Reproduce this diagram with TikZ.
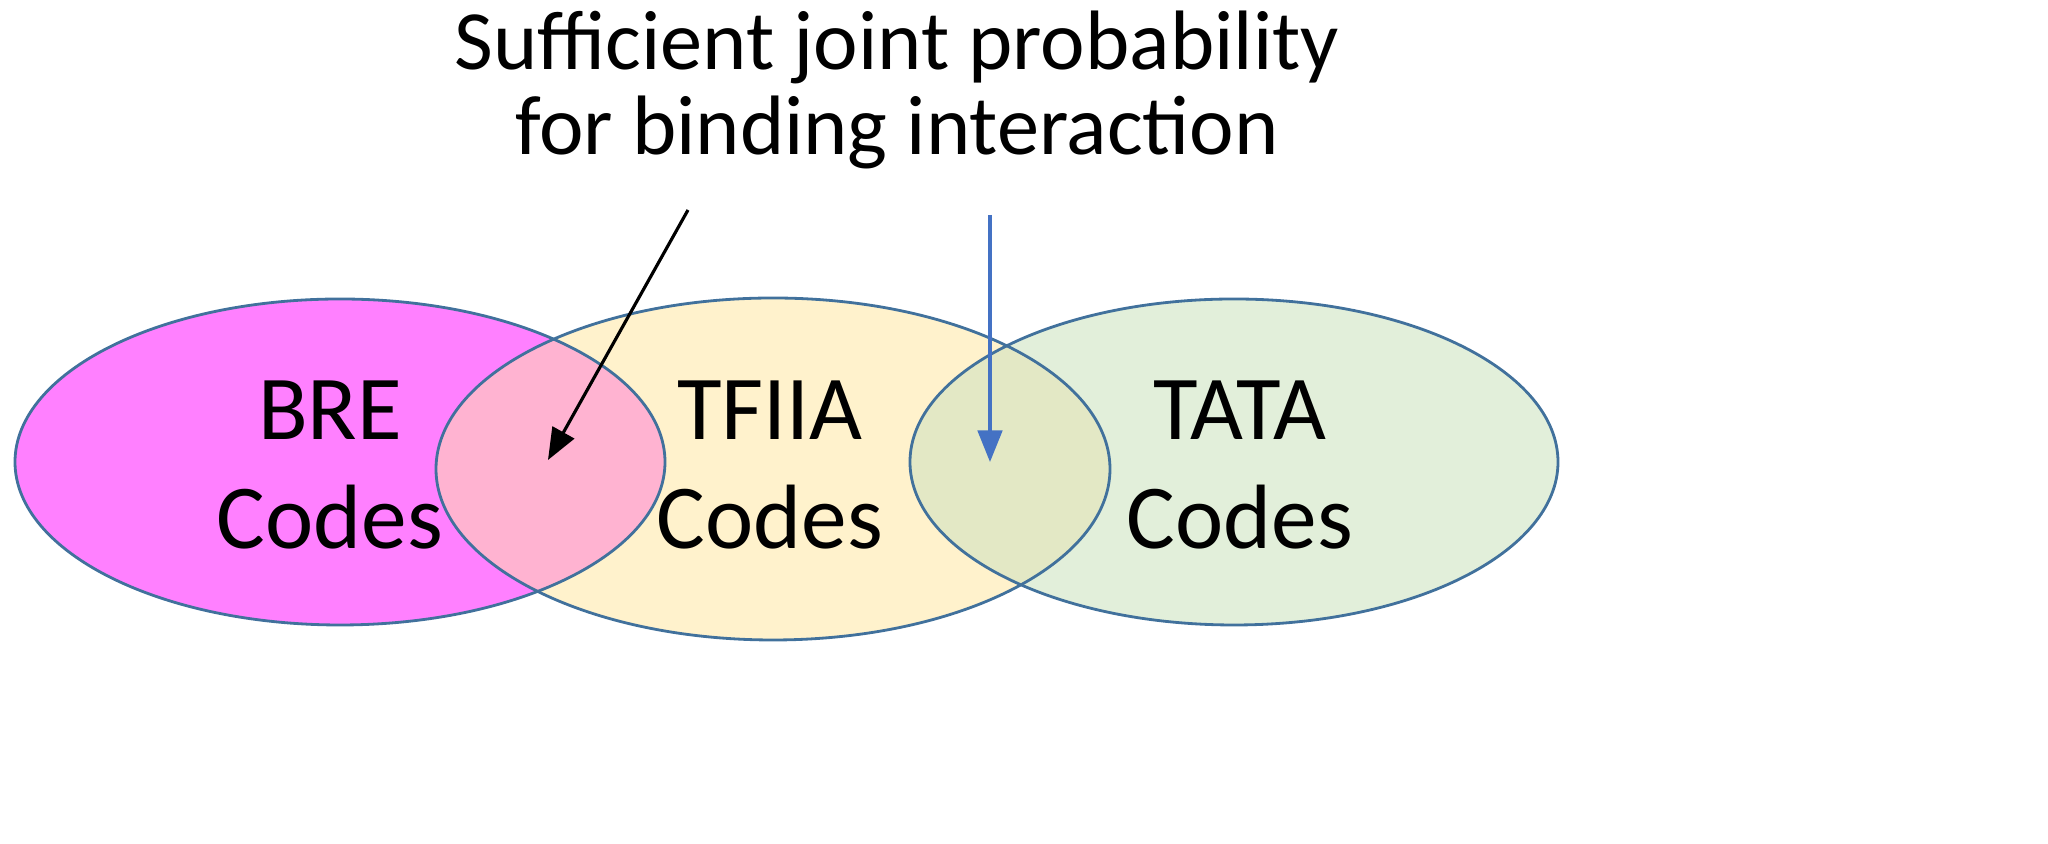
\documentclass[tikz,border=0pt]{standalone}
\usepackage{fontspec}
\setmainfont{Carlito}
\usetikzlibrary{arrows.meta}
\definecolor{bre}{HTML}{FF80FF}
\definecolor{tf}{HTML}{FFF2CC}
\definecolor{tata}{HTML}{E2EFDA}
\definecolor{ovl}{HTML}{FFB3D1}
\definecolor{ovr}{HTML}{E3E8C5}
\definecolor{edge}{HTML}{41719C}
\definecolor{arb}{HTML}{4472C4}
\begin{document}
\begin{tikzpicture}[
  lbl/.style={font=\fontsize{26}{31}\selectfont, align=center},
  ttl/.style={font=\fontsize{24}{24}\selectfont, align=center},
  arr/.style={-{Triangle[length=9pt,width=7pt]}, line width=0.9pt}]
\useasboundingbox (0,0) rectangle (20.48,-8.44);
\def\Lell{(3.40,-4.62) ellipse [x radius=3.25cm, y radius=1.63cm]}
\def\Mell{(7.73,-4.69) ellipse [x radius=3.37cm, y radius=1.71cm]}
\def\Rell{(12.34,-4.62) ellipse [x radius=3.24cm, y radius=1.63cm]}
\fill[bre] \Lell;
\fill[tf] \Mell;
\fill[tata] \Rell;
\begin{scope}\clip \Lell; \fill[ovl] \Mell; \end{scope}
\begin{scope}\clip \Rell; \fill[ovr] \Mell; \end{scope}
\draw[edge, line width=0.8pt] \Lell;
\draw[edge, line width=0.8pt] \Mell;
\draw[edge, line width=0.8pt] \Rell;
\node[lbl] (bre) at (3.30,-4.65) {BRE\\Codes};
\node[lbl] (tf) at (7.70,-4.65) {TFIIA\\Codes};
\node[lbl] (ta) at (12.40,-4.65) {TATA\\Codes};
\node[ttl] (title) at (8.97,-0.90) {Sufficient joint probability\\for binding interaction};
\coordinate (a1s) at (6.88,-2.10); \coordinate (a1e) at (5.48,-4.60);
\coordinate (a2s) at (9.90,-2.15); \coordinate (a2e) at (9.90,-4.62);
\draw[arr] (a1s) -- (a1e);
\draw[arr, arb] (a2s) -- (a2e);
\end{tikzpicture}
\end{document}
